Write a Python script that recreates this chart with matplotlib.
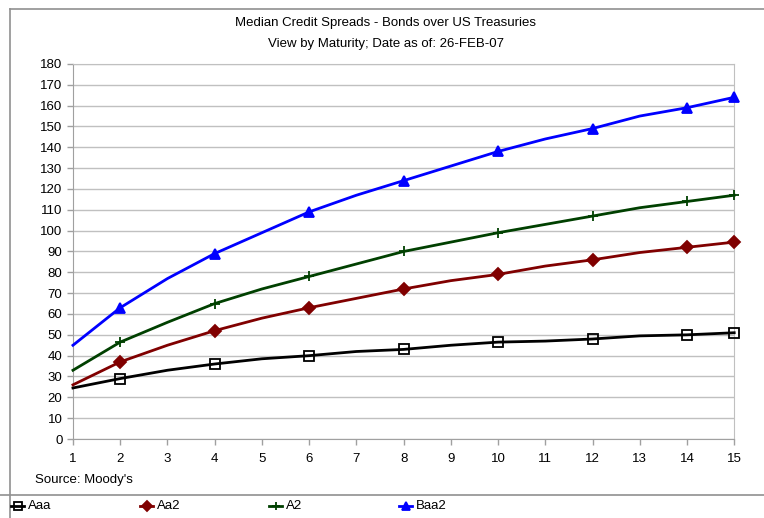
import matplotlib.pyplot as plt
from matplotlib.lines import Line2D

plt.rcParams['font.family'] = ['Liberation Sans', 'DejaVu Sans']

maturity = list(range(1, 16))
aaa = [24.5, 29, 33, 36, 38.5, 40, 42, 43, 45, 46.5, 47, 48, 49.5, 50, 51]
aa2 = [26, 37, 45, 52, 58, 63, 67.5, 72, 76, 79, 83, 86, 89.5, 92, 94.5]
a2 = [33, 46.5, 56, 65, 72, 78, 84, 90, 94.5, 99, 103, 107, 111, 114, 117]
baa2 = [45, 63, 77, 89, 99, 109, 117, 124, 131, 138, 144, 149, 155, 159, 164]

series = [
    ('Aaa', aaa, 'black', 's', 'none'),
    ('Aa2', aa2, '#800000', 'D', '#800000'),
    ('A2', a2, '#004000', '+', '#004000'),
    ('Baa2', baa2, '#0000ff', '^', '#0000ff'),
]
marks = [1, 3, 5, 7, 9, 11, 13, 14]

fig = plt.figure(figsize=(7.64, 5.18), dpi=100)
ax = fig.add_axes([0.0955, 0.1525, 0.8655, 0.724])

for name, vals, col, mk, face in series:
    ax.plot(maturity, vals, color=col, lw=2, marker=mk, markevery=marks,
            markersize=6.5 if mk != 'D' else 6, markerfacecolor=face,
            markeredgecolor=col, markeredgewidth=1.3, clip_on=False, zorder=3)

ax.set_xlim(1, 15)
ax.set_ylim(0, 180)
ax.set_xticks(maturity)
ax.set_yticks(range(0, 181, 10))
ax.yaxis.grid(True, color='#c0c0c0', lw=1)
ax.set_axisbelow(True)
for side in ['left', 'bottom']:
    ax.spines[side].set_color('#a0a0a0')
for side in ['top', 'right']:
    ax.spines[side].set_color('#c0c0c0')
ax.tick_params(colors='#a0a0a0', labelcolor='black', labelsize=9.5, length=4, width=1)
ax.tick_params(axis='x', pad=6)

fig.text(0.505, 0.956, 'Median Credit Spreads - Bonds over US Treasuries',
         ha='center', va='center', fontsize=9.5)
fig.text(0.505, 0.915, 'View by Maturity; Date as of: 26-FEB-07',
         ha='center', va='center', fontsize=9.5)
fig.text(0.046, 0.073, "Source: Moody's", ha='left', va='center', fontsize=9.5)

# outer frame and legend separator
fig.add_artist(Line2D([10 / 764, 10 / 764], [0, 1 - 9 / 518], color='#909090', lw=1.2))
fig.add_artist(Line2D([10 / 764, 1], [1 - 9 / 518, 1 - 9 / 518], color='#909090', lw=1.2))
fig.add_artist(Line2D([0, 1], [1 - 495 / 518, 1 - 495 / 518], color='#909090', lw=1.2))

# legend row along the bottom
leg_x = [11, 140, 269, 399]
for (name, vals, col, mk, face), x0 in zip(series, leg_x):
    yy = 1 - 506 / 518
    fig.add_artist(Line2D([x0 / 764, (x0 + 13) / 764], [yy, yy], color=col, lw=2))
    fig.add_artist(Line2D([(x0 + 6.5) / 764], [yy], color=col, marker=mk,
                          markersize=6 if mk != 'D' else 5.5, markerfacecolor=face,
                          markeredgecolor=col, markeredgewidth=1.3, lw=0))
    fig.text((x0 + 17) / 764, yy, name, ha='left', va='center', fontsize=9.5)

fig.savefig('out.png', dpi=100)
